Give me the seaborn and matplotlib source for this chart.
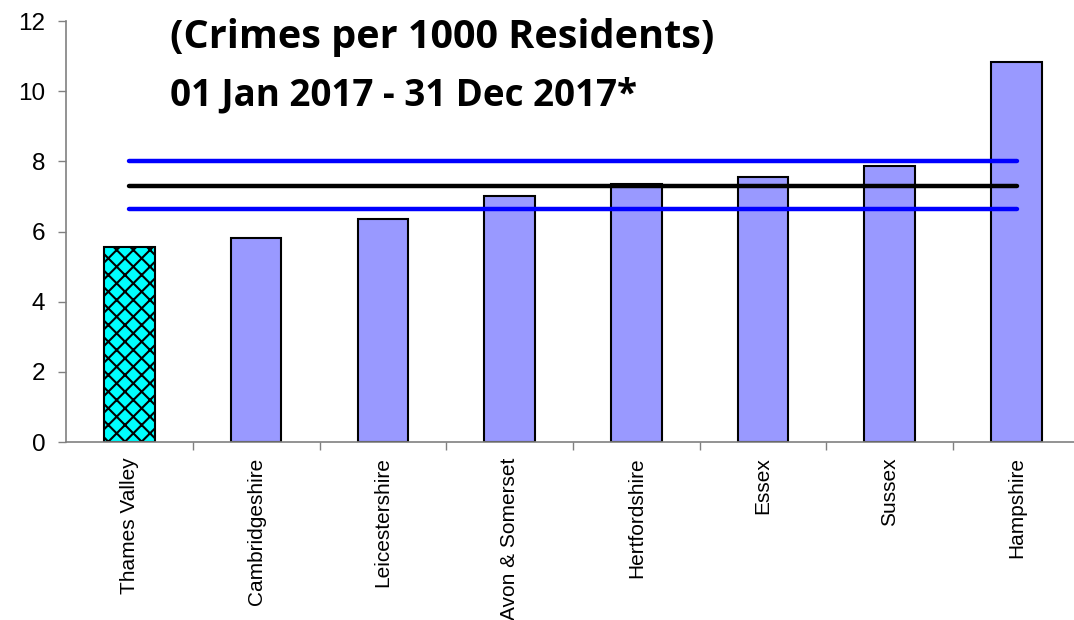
import matplotlib
matplotlib.use("Agg")
import matplotlib.pyplot as plt
import seaborn as sns
import numpy as np
import pandas as pd

# data
forces = ["Thames Valley", "Cambridgeshire", "Leicestershire", "Avon & Somerset",
          "Hertfordshire", "Essex", "Sussex", "Hampshire"]
rates = [5.57, 5.82, 6.37, 7.02, 7.37, 7.56, 7.87, 10.83]
upper_band = 8.02
group_mean = 7.30
lower_band = 6.64

df = pd.DataFrame({"force": forces, "rate": rates})

sns.set_style("white")
plt.rcParams["font.family"] = ["Liberation Sans", "DejaVu Sans"]
plt.rcParams["hatch.linewidth"] = 1.5
plt.rcParams["text.color"] = "black"

fig = plt.figure(figsize=(10.74, 6.2), dpi=100)
ax = fig.add_axes([0.0615, 0.287, 0.944, 0.679])

bar_colors = ["#00ffff"] + ["#9999ff"] * (len(forces) - 1)
sns.barplot(data=df, x="force", y="rate", hue="force", palette=bar_colors,
            legend=False, width=0.4, edgecolor="black", linewidth=1.5,
            saturation=1, ax=ax)

# highlight Thames Valley with crosshatch
ax.patches[0].set_hatch("xx")

# mean and band lines, drawn over bars
x_span = [0, len(forces) - 1]
for val, col in [(upper_band, "#0000ff"), (group_mean, "black"), (lower_band, "#0000ff")]:
    ax.plot(x_span, [val, val], color=col, lw=3.2, solid_capstyle="round", zorder=5)

ax.set_xlim(-0.5, len(forces) - 0.5)
ax.set_ylim(0, 12)
ax.set_yticks(np.arange(0, 13, 2))
ax.set_xlabel("")
ax.set_ylabel("")

# x tick marks between categories, labels at centres
ax.set_xticks(np.arange(0.5, len(forces) - 0.5, 1), minor=True)
ax.set_xticks(np.arange(len(forces)))
ax.set_xticklabels(forces, rotation=90, fontsize=15)
ax.tick_params(axis="x", which="major", length=0, pad=11, labelcolor="black")
ax.tick_params(axis="x", which="minor", length=6, width=1, color="#808080", direction="out")
ax.tick_params(axis="y", length=6, width=1, color="#808080", direction="out",
               labelsize=17.5, pad=9, labelcolor="black")
ax.xaxis.set_tick_params(bottom=True, which="both")
ax.yaxis.set_tick_params(left=True)

sns.despine(ax=ax)
for side in ["left", "bottom"]:
    ax.spines[side].set_color("#808080")
    ax.spines[side].set_linewidth(1.2)

fig.text(0.158, 0.9226, "(Crimes per 1000 Residents)", fontsize=28.5, fontweight="bold",
         family=["Open Sans", "DejaVu Sans"], va="baseline", ha="left", color="black")
fig.text(0.158, 0.8306, "01 Jan 2017 - 31 Dec 2017*", fontsize=26.5, fontweight="bold",
         family=["Open Sans", "DejaVu Sans"], va="baseline", ha="left", color="black")

fig.savefig("out.png", dpi=100)
